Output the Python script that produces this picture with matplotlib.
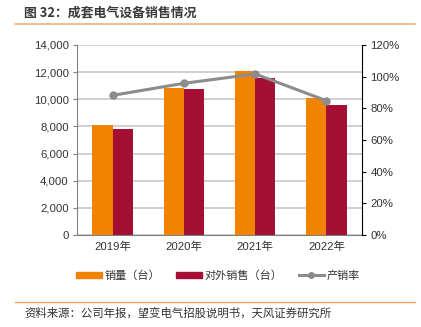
import matplotlib
matplotlib.use("Agg")
import matplotlib.pyplot as plt
import numpy as np
from matplotlib.ticker import FuncFormatter
from matplotlib.lines import Line2D
from matplotlib.patches import Patch

plt.rcParams['font.family'] = ['Noto Sans CJK SC', 'DejaVu Sans']
tick_family = ['Liberation Sans', 'Noto Sans CJK SC']

years = ['2019年', '2020年', '2021年', '2022年']
sales_volume = [8130, 10850, 12080, 10070]
external_sales = [7810, 10760, 11570, 9580]
ratio = [88.2, 95.8, 101.7, 84.8]

c_orange = '#F08300'
c_red = '#A50F34'
c_gray = '#8C8C8C'

fig = plt.figure(figsize=(4.21, 3.27), dpi=100)
ax = fig.add_axes([0.183, 0.2813, 0.677, 0.5811])
ax2 = ax.twinx()

x = np.arange(len(years))
w = 0.285
ax.bar(x - w/2, sales_volume, w, color=c_orange, zorder=3)
ax.bar(x + w/2, external_sales, w, color=c_red, zorder=3)
ax.set_xlim(-0.5, 3.5)
ax.set_ylim(0, 14000)
ax.set_yticks(np.arange(0, 14001, 2000))
ax.yaxis.set_major_formatter(FuncFormatter(lambda v, p: f'{int(v):,}'))
ax.set_xticks(x)
ax.set_xticklabels(years)
ax.grid(axis='y', color='#C8C8C8', linewidth=1.2, zorder=0)
ax.set_axisbelow(True)
for s in ['top', 'right']:
    ax.spines[s].set_visible(False)
ax.spines['left'].set_color('#808080')
ax.spines['bottom'].set_color('#808080')
ax.tick_params(axis='y', length=3, color='#808080', pad=3)
ax.tick_params(axis='x', length=0, pad=5)
for t in ax.get_yticklabels() + ax.get_xticklabels():
    t.set_family(tick_family)
    t.set_fontsize(8.2)
    t.set_color('#333333')

ax2.plot(x, ratio, color=c_gray, linewidth=2.2, marker='o', markersize=5, zorder=5)
ax2.set_ylim(0, 120)
ax2.set_yticks(np.arange(0, 121, 20))
ax2.yaxis.set_major_formatter(FuncFormatter(lambda v, p: f'{int(v)}%'))
for s in ['top', 'left', 'bottom']:
    ax2.spines[s].set_visible(False)
ax2.spines['right'].set_color('#000000')
ax2.tick_params(axis='y', length=3, pad=3)
for t in ax2.get_yticklabels():
    t.set_family(tick_family)
    t.set_fontsize(8.2)
    t.set_color('#333333')

fig.text(0.057, 0.962, '图 32：成套电气设备销售情况', fontsize=9.3, fontweight='bold',
         color='#3A3A3A', va='center', ha='left')
fig.add_artist(Line2D([0.036, 0.986], [0.928, 0.928], color='#F5B070', linewidth=1.2))
fig.add_artist(Line2D([0.036, 0.986], [0.077, 0.077], color='#F5A060', linewidth=1.0))
fig.text(0.057, 0.042, '资料来源：公司年报，望变电气招股说明书，天风证券研究所', fontsize=8.2,
         color='#333333', va='center', ha='left')

handles = [Patch(color=c_orange), Patch(color=c_red),
           Line2D([0], [0], color=c_gray, linewidth=2.2, marker='o', markersize=4)]
labels = ['销量（台）', '对外销售（台）', '产销率']
fig.legend(handles, labels, loc='center', bbox_to_anchor=(0.518, 0.157), ncol=3,
           frameon=False, fontsize=8, handlelength=2.3, handleheight=0.5,
           handletextpad=0.2, columnspacing=1.5, labelcolor='#333333')

fig.savefig('out.png', dpi=100)
